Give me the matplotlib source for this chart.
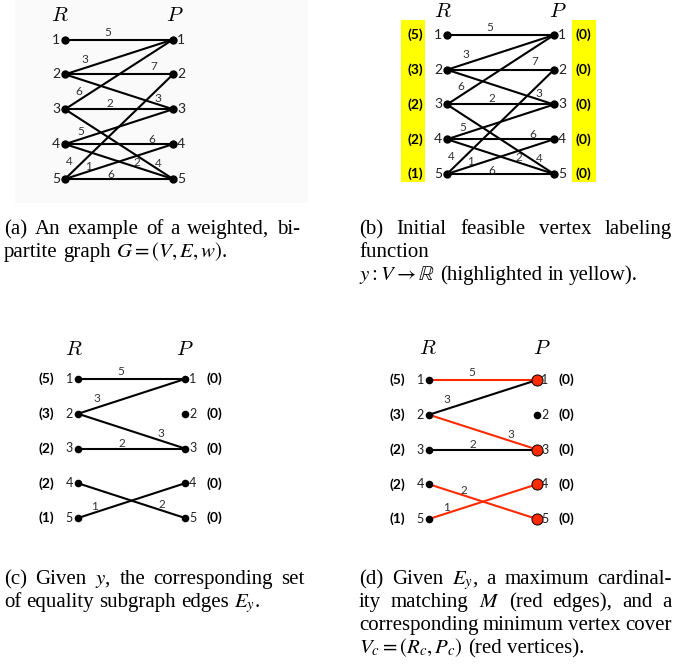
import matplotlib
matplotlib.use('Agg')
import matplotlib.pyplot as plt
from matplotlib.patches import Rectangle
from matplotlib.transforms import IdentityTransform

W, H = 676, 670
DPI = 100
PT = 72 / DPI  # points per pixel

# ---- data ----
R_NODES = [1, 2, 3, 4, 5]
P_NODES = [1, 2, 3, 4, 5]

# full weighted graph, panels (a) and (b): (r, p) pairs
EDGES = [(1, 1), (2, 1), (2, 2), (2, 3), (3, 1), (3, 3), (3, 5),
         (4, 3), (4, 4), (4, 5), (5, 2), (5, 4), (5, 5)]
WEIGHTS = [5, 3, 7, 3, 6, 2, 4, 5, 6, 2, 4, 1, 6]

# initial vertex labelling y
Y_R = [5, 3, 2, 2, 1]
Y_P = [0, 0, 0, 0, 0]

# equality subgraph, panels (c) and (d)
EQ_EDGES = [(1, 1), (2, 1), (2, 3), (3, 3), (4, 5), (5, 4)]
EQ_WEIGHTS = [5, 3, 3, 2, 2, 1]
MATCHING = [(1, 1), (2, 3), (4, 5), (5, 4)]
COVER_P = [1, 3, 4, 5]

# where each weight label sits: fraction along edge from R side, pixel shift
LBL_FULL = [(0.40, 0, -7), (0.18, 0, -9), (0.82, 0, -8), (0.86, 0, -6), (0.13, 0, -9),
            (0.42, 0, -6), (0.86, 0, -6), (0.15, 0, -7), (0.80, 0, -5), (0.67, 0, -5),
            (0.07, -3, -10), (0.22, 0, -5), (0.42, 0, -4)]
LBL_C = [(0.40, 0, -7), (0.18, 0, -9), (0.77, 0, -7), (0.41, 0, -5), (0.78, 0, -6), (0.15, 0, -6)]
LBL_D = [(0.40, 0, -7), (0.17, 0, -9), (0.76, 0, -7), (0.41, 0, -5), (0.32, 0, -5), (0.16, 0, -6)]

RED = '#ff2a00'
SANS = 'Lato'
SERIF = 'Liberation Serif'

plt.rcParams['mathtext.fontset'] = 'stix'
fig = plt.figure(figsize=(W / DPI, H / DPI), dpi=DPI)


def panel(xr, xp, y1, y5):
    # axes where R column is x=0, P column x=1, node k sits at y=k
    left, right = xr - 80, xp + 80
    top, bottom = y1 - 40, y5 + 20
    ax = fig.add_axes([left / W, 1 - bottom / H, (right - left) / W, (bottom - top) / H])
    sx = xp - xr
    sy = (y5 - y1) / 4
    ax.set_xlim((left - xr) / sx, (right - xr) / sx)
    ax.set_ylim(1 + (bottom - y1) / sy, 1 + (top - y1) / sy)
    ax.axis('off')
    ax.sx, ax.sy = sx, sy
    return ax


def draw_graph(ax, edges, weights, lbls, num_fs, w_fs, node_s, colors=None):
    for i, ((r, p), w) in enumerate(zip(edges, weights)):
        c = colors[i] if colors else 'black'
        ax.plot([0, 1], [r, p], color=c, lw=1.5, solid_capstyle='butt', zorder=1)
        t, dx, dy = lbls[i]
        ax.annotate(str(w), (t, r + t * (p - r)), xytext=(dx * PT, -dy * PT),
                    textcoords='offset points', ha='center', va='center',
                    fontsize=w_fs, family=SANS, color='#333333')
    ax.scatter([0] * len(R_NODES), R_NODES, s=node_s, color='black', zorder=3, linewidths=0)
    ax.scatter([1] * len(P_NODES), P_NODES, s=node_s, color='black', zorder=3, linewidths=0)
    for k in R_NODES:
        ax.annotate(str(k), (0, k), xytext=(-5 * PT, 0), textcoords='offset points',
                    ha='right', va='center', fontsize=num_fs, family=SANS, color='#222222')
    for k in P_NODES:
        ax.annotate(str(k), (1, k), xytext=(4 * PT, 0), textcoords='offset points',
                    ha='left', va='center', fontsize=num_fs, family=SANS, color='#222222')


def titles(ax, rdx, pdx, dy):
    ax.annotate('$R$', (0, 1), xytext=(rdx * PT, dy * PT), textcoords='offset points',
                ha='center', va='baseline', fontsize=15, math_fontfamily='cm')
    ax.annotate('$P$', (1, 1), xytext=(pdx * PT, dy * PT), textcoords='offset points',
                ha='center', va='baseline', fontsize=15, math_fontfamily='cm')


def y_labels(ax, fs):
    for k, v in zip(R_NODES, Y_R):
        ax.annotate('(%d)' % v, (0, k), xytext=(-32 * PT, 0), textcoords='offset points',
                    ha='center', va='center', fontsize=fs, family=SANS, weight='bold')
    for k, v in zip(P_NODES, Y_P):
        ax.annotate('(%d)' % v, (1, k), xytext=(29 * PT, 0), textcoords='offset points',
                    ha='center', va='center', fontsize=fs, family=SANS, weight='bold')


# panel (a) -- faint grey picture background
fig.add_artist(Rectangle((15 / W, 1 - 203 / H), 293 / W, 203 / H, transform=fig.transFigure,
                         facecolor='#fafafa', edgecolor='none', zorder=-1))
ax_a = panel(65, 173, 39.5, 179)
draw_graph(ax_a, EDGES, WEIGHTS, LBL_FULL, 10, 8.5, 36)
titles(ax_a, -5, 2, 18.5)

# panel (b)
ax_b = panel(447, 554, 35, 174)
for x0 in (-46, 18):
    base = 0 if x0 < 0 else 1
    ax_b.add_patch(Rectangle((base + x0 / ax_b.sx, 1 - 15 / ax_b.sy), 24 / ax_b.sx,
                             4 + 23 / ax_b.sy, facecolor='#ffff00', edgecolor='none', zorder=0))
draw_graph(ax_b, EDGES, WEIGHTS, LBL_FULL, 10, 8.5, 36)
y_labels(ax_b, 10)
titles(ax_b, -4, 4, 18)

# panel (c)
ax_c = panel(78, 185, 379, 518)
draw_graph(ax_c, EQ_EDGES, EQ_WEIGHTS, LBL_C, 9, 8.5, 30)
y_labels(ax_c, 10)
titles(ax_c, -4, 0, 24)

# panel (d)
ax_d = panel(429, 537, 380, 519)
cols = [RED if e in MATCHING else 'black' for e in EQ_EDGES]
draw_graph(ax_d, EQ_EDGES, EQ_WEIGHTS, LBL_D, 9, 8.5, 30, colors=cols)
ax_d.scatter([1] * len(COVER_P), COVER_P, s=64, color=RED, edgecolors='black',
             linewidths=0.7, zorder=4)
y_labels(ax_d, 10)
titles(ax_d, -1, 5, 26)

# ---- captions (justified like the paper) ----
CAP_FS = 15
renderer = fig.canvas.get_renderer()


def cap_line(words, x0, y, x1=None):
    ts = [fig.text(0, 0, w, fontsize=CAP_FS, family=SERIF, va='baseline',
                   transform=IdentityTransform()) for w in words]
    widths = [t.get_window_extent(renderer).width for t in ts]
    if x1 is None or len(ts) == 1:
        gap = 0.25 * CAP_FS / PT
    else:
        gap = max((x1 - x0 - sum(widths)) / (len(ts) - 1), 2.5)
    x = x0
    for t, w in zip(ts, widths):
        t.set_position((x, H - y))
        x += w + gap


cap_line('(a) An example of a weighted, bi-'.split(), 4, 234, 300)
cap_line(['partite', 'graph', '$G=(V,E,w)$.'], 4, 257)

cap_line('(b) Initial feasible vertex labeling'.split(), 359, 234, 672)
cap_line(['function'], 359, 257)
cap_line([r'$y:V\rightarrow\mathbb{R}$', '(highlighted', 'in', 'yellow).'], 359, 280)

cap_line(['(c)', 'Given', '$y$,', 'the', 'corresponding', 'set'], 4, 584, 305)
cap_line(['of', 'equality', 'subgraph', 'edges', '$E_y$.'], 4, 607)

cap_line(['(d)', 'Given', '$E_y$,', 'a', 'maximum', 'cardinal-'], 359, 584, 672)
cap_line(['ity', 'matching', '$M$', '(red', 'edges),', 'and', 'a'], 359, 607, 672)
cap_line('corresponding minimum vertex cover'.split(), 359, 630, 672)
cap_line(['$V_c=(R_c,P_c)$', '(red', 'vertices).'], 359, 653)

fig.savefig('out.png', dpi=DPI)
